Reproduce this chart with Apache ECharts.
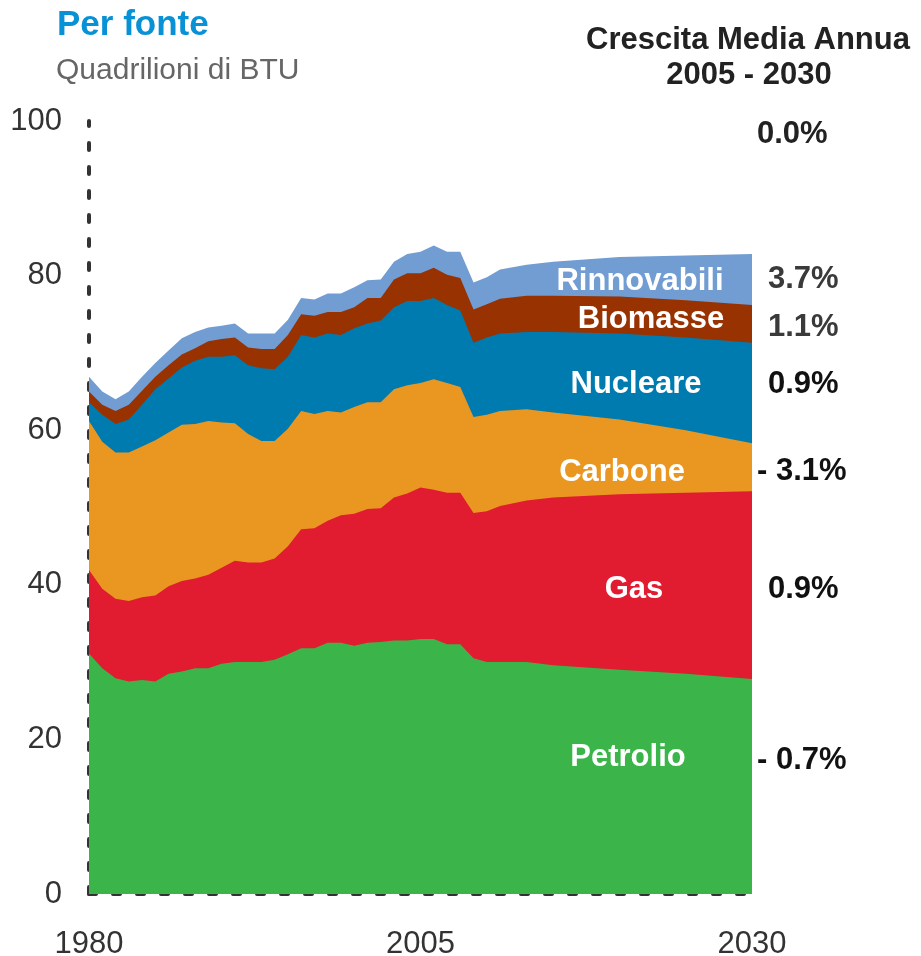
<!DOCTYPE html>
<html>
<head>
<meta charset="utf-8">
<script src="https://cdn.jsdelivr.net/npm/echarts@6/dist/echarts.min.js"></script>
<style>
  html, body { margin: 0; padding: 0; background: #fff; }
  #chart { width: 921px; height: 956px; }
</style>
</head>
<body>
<div id="chart"></div>
<script>
// anni (storico annuale fino al 2011, poi proiezioni)
const years = [1980, 1981, 1982, 1983, 1984, 1985, 1986, 1987, 1988, 1989,
  1990, 1991, 1992, 1993, 1994, 1995, 1996, 1997, 1998, 1999,
  2000, 2001, 2002, 2003, 2004, 2005, 2006, 2007, 2008, 2009,
  2010, 2011, 2013, 2015, 2020, 2025, 2030];

// quadrilioni di BTU per fonte
const petrolio = [31.1, 29.2, 27.9, 27.5, 27.7, 27.5, 28.5, 28.8, 29.2, 29.2,
  29.8, 30.0, 30.0, 30.0, 30.3, 31.0, 31.8, 31.8, 32.5, 32.5,
  32.1, 32.5, 32.6, 32.8, 32.8, 33.0, 33.0, 32.3, 32.3, 30.5,
  30.0, 30.0, 30.0, 29.6, 29.0, 28.5, 27.8];
const gas = [10.8, 10.3, 10.3, 10.4, 10.7, 11.1, 11.3, 11.7, 11.6, 12.1,
  12.4, 13.1, 12.9, 12.9, 13.1, 14.0, 15.4, 15.5, 15.8, 16.5,
  17.1, 17.3, 17.3, 18.5, 19.0, 19.6, 19.3, 19.6, 19.6, 18.8,
  19.5, 20.2, 20.9, 21.7, 22.7, 23.4, 24.3];
const carbone = [19.3, 19.0, 18.9, 19.2, 19.5, 20.1, 19.9, 20.2, 20.0, 19.9,
  18.8, 17.8, 16.6, 15.7, 15.2, 15.2, 15.3, 14.8, 14.2, 13.3,
  13.8, 13.8, 13.7, 14.0, 14.0, 13.5, 14.3, 14.2, 13.7, 12.4,
  12.5, 12.3, 11.8, 11.0, 9.7, 8.1, 6.2];
const nucleare = [2.4, 3.5, 3.7, 4.3, 5.4, 6.6, 7.0, 7.4, 8.2, 8.3,
  8.5, 8.8, 8.9, 9.4, 9.3, 9.3, 9.8, 9.9, 10.0, 10.0,
  10.2, 10.2, 10.6, 10.6, 10.9, 10.6, 10.5, 10.1, 9.9, 9.6,
  10.0, 10.0, 10.0, 10.4, 11.1, 12.0, 13.0];
const biomasse = [1.4, 1.3, 1.7, 1.9, 1.8, 1.6, 1.7, 1.7, 1.6, 2.0,
  2.3, 2.3, 2.3, 2.5, 2.6, 2.8, 2.7, 2.8, 2.8, 3.0,
  2.7, 3.3, 2.9, 3.6, 3.6, 3.6, 3.9, 3.9, 4.2, 4.3,
  4.3, 4.5, 4.7, 4.7, 4.8, 4.8, 4.9];
const rinnovabili = [1.9, 1.7, 1.5, 1.7, 1.8, 1.8, 1.9, 2.1, 2.1, 1.8,
  1.7, 1.8, 1.8, 2.0, 2.0, 2.0, 2.1, 2.1, 2.4, 2.4,
  2.6, 2.3, 2.4, 2.3, 2.5, 2.8, 2.9, 3.0, 3.4, 3.5,
  3.5, 3.8, 4.0, 4.4, 5.1, 5.8, 6.6];

const xLabels = [1980, 2005, 2030];
const yTicks = [0, 20, 40, 60, 80, 100];

// crescita media annua 2005-2030 (dall'alto in basso)
const growth = ['0.0%', '3.7%', '1.1%', '0.9%', '- 3.1%', '0.9%', '- 0.7%'];

const FONT = '"Liberation Sans", Arial, sans-serif';

const sources = [
  { name: 'Petrolio', data: petrolio, color: '#3bb54a' },
  { name: 'Gas', data: gas, color: '#e11b30' },
  { name: 'Carbone', data: carbone, color: '#ea9722' },
  { name: 'Nucleare', data: nucleare, color: '#007bb0' },
  { name: 'Biomasse', data: biomasse, color: '#983200' },
  { name: 'Rinnovabili', data: rinnovabili, color: '#719dd2' }
];

// impilamento: somma cumulativa delle fonti, disegnate dall'alto verso il basso
let running = years.map(() => 0);
sources.forEach(s => {
  running = running.map((v, i) => +(v + s.data[i]).toFixed(2));
  s.top = running;
});

// posizioni delle etichette (testo)
const areaLabelPos = {
  Rinnovabili: [640, 281], Biomasse: [651, 319], Nucleare: [636, 384],
  Carbone: [622, 472], Gas: [634, 589], Petrolio: [628, 757]
};
const growthPos = [[757, 134], [768, 279], [768, 327], [768, 384], [757, 471], [768, 589], [757, 760]];
const growthColor = ['#222', '#3a3a3a', '#3a3a3a', '#111', '#111', '#111', '#111'];

const chart = echarts.init(document.getElementById('chart'));

const graphics = [
  { type: 'text', x: 57, y: 25, style: { text: 'Per fonte', font: 'bold 35px ' + FONT, fill: '#0891d5', verticalAlign: 'middle' } },
  { type: 'text', x: 56, y: 71, style: { text: 'Quadrilioni di BTU', font: '30px ' + FONT, fill: '#666', verticalAlign: 'middle' } },
  { type: 'text', x: 748, y: 40, style: { text: 'Crescita Media Annua', font: 'bold 31px ' + FONT, fill: '#222', align: 'center', verticalAlign: 'middle' } },
  { type: 'text', x: 749, y: 75, style: { text: '2005 - 2030', font: 'bold 31px ' + FONT, fill: '#222', align: 'center', verticalAlign: 'middle' } }
];
sources.forEach(s => {
  const p = areaLabelPos[s.name];
  graphics.push({ type: 'text', x: p[0], y: p[1], z: 10,
    style: { text: s.name, font: 'bold 31px ' + FONT, fill: '#fff', align: 'center', verticalAlign: 'middle' } });
});
growth.forEach((g, i) => {
  graphics.push({ type: 'text', x: growthPos[i][0], y: growthPos[i][1],
    style: { text: g, font: 'bold 31px ' + FONT, fill: growthColor[i], align: 'left', verticalAlign: 'middle' } });
});

const axisDash = { color: '#333', width: 4, type: [7, 17] };

chart.setOption({
  animation: false,
  textStyle: { fontFamily: FONT },
  grid: { left: 89, right: 169, top: 121, bottom: 62, containLabel: false, outerBoundsMode: 'none' },
  xAxis: {
    type: 'value', min: 1980, max: 2030, interval: 5,
    axisLine: { show: true, lineStyle: axisDash },
    axisTick: { show: false },
    splitLine: { show: false },
    axisLabel: {
      fontSize: 31, color: '#333', margin: 35,
      formatter: v => xLabels.includes(v) ? String(v) : ''
    }
  },
  yAxis: {
    type: 'value', min: 0, max: 100, interval: 20,
    axisLine: { show: true, lineStyle: axisDash },
    axisTick: { show: false },
    splitLine: { show: false },
    axisLabel: {
      fontSize: 31, color: '#333', margin: 27,
      formatter: v => yTicks.includes(v) ? String(v) : ''
    }
  },
  series: sources.slice().reverse().map(s => ({
    name: s.name,
    type: 'line',
    showSymbol: false,
    lineStyle: { width: 0 },
    areaStyle: { color: s.color, opacity: 1, origin: 'start' },
    itemStyle: { color: s.color },
    data: years.map((y, i) => [y, s.top[i]])
  })),
  graphic: graphics
});
</script>
</body>
</html>
